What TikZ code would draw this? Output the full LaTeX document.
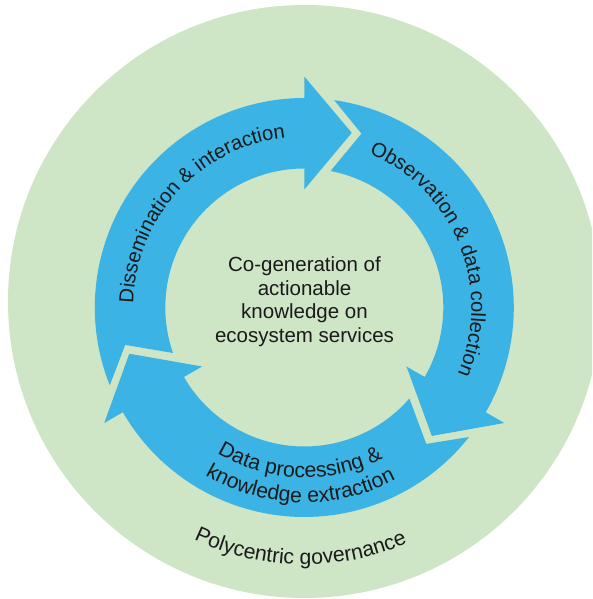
\documentclass[tikz,border=0pt]{standalone}
\usepackage{fontspec}
\setmainfont{Liberation Sans}
\usetikzlibrary{decorations.text}
\definecolor{ringblue}{HTML}{3BB4E5}
\definecolor{govgreen}{HTML}{CEE5C6}
\definecolor{inktext}{HTML}{1A1A1A}
\tikzset{
  ringarrow/.style={fill=ringblue},
  govdisc/.style={fill=govgreen},
  arclabel/.style={decorate, decoration={text along path, text align=center, text color=inktext}},
  coretext/.style={align=center, inner sep=0pt, text=inktext, font=\fontsize{20.5}{23.5}\selectfont}
}
\begin{document}
\begin{tikzpicture}[x=1pt,y=1pt]
  \useasboundingbox (0,0) rectangle (592,599);
  \clip (0,0) rectangle (592,599);
  % outer green disc: polycentric governance
  \fill[govdisc] (304.5,297.5) circle[radius=296.5pt];
  \begin{scope}[shift={(304.3,291.5)}]
    % three cycle arrows (clockwise)
    \foreach \h in {90,-30,210} {
      \fill[ringarrow] ({\h+111.8}:209.5pt)
        arc[start angle={\h+111.8}, end angle=\h, radius=209.5pt]
        -- (\h:231pt) -- ({\h-15.2}:181pt) -- (\h:118pt) -- (\h:139pt)
        arc[start angle=\h, end angle={\h+109.1}, radius=139pt]
        -- ({\h+101.8}:183pt) -- cycle;
    }
    % curved labels
    \path[arclabel, decoration={text={|\fontsize{20.3}{24}\selectfont|Dissemination {\&} interaction}}]
      (197.5:171pt) arc[start angle=197.5, end angle=77.5, radius=171pt];
    \path[arclabel, decoration={text={|\fontsize{20.3}{24}\selectfont|Observation {\&} data collection}}]
      (81.9:167pt) arc[start angle=81.9, end angle=-38.1, radius=167pt];
    \path[arclabel, decoration={text={|\fontsize{21.2}{25}\selectfont|Data processing {\&}}}]
      (-151.6:170pt) arc[start angle=-151.6, end angle=-31.6, radius=170pt];
    \path[arclabel, decoration={text={|\fontsize{21.2}{25}\selectfont|knowledge extraction}}]
      (-151.3:195pt) arc[start angle=-151.3, end angle=-31.3, radius=195pt];
    \path[arclabel, decoration={text={|\fontsize{21.2}{25}\selectfont|Polycentric governance}}]
      (-150.9:257pt) arc[start angle=-150.9, end angle=-30.9, radius=257pt];
  \end{scope}
  % centre text
  \node[coretext] (core) at (304.5,297.1) {Co-generation of\\actionable\\knowledge on\\ecosystem services};
\end{tikzpicture}
\end{document}
